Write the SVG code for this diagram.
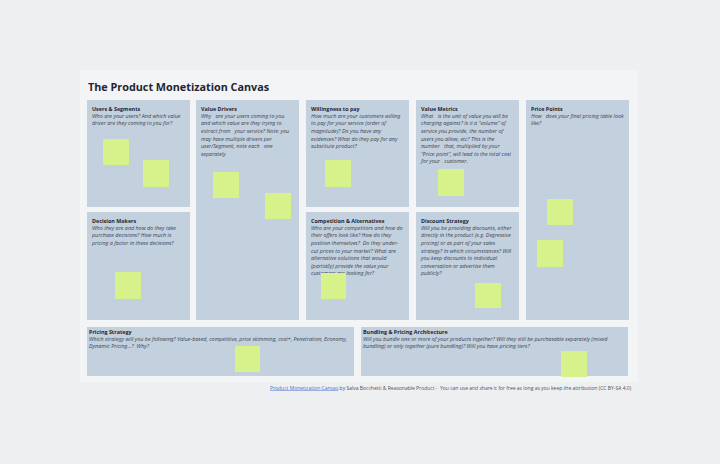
<svg xmlns="http://www.w3.org/2000/svg" width="720" height="464" viewBox="0 0 720 464" xml:space="preserve">
<style>
.panel{fill:#c3d1df}
.note{fill:#d8f28b}
.h{font-family:"Open Sans","Liberation Sans",sans-serif;font-weight:700;font-size:5.4px;fill:#1f2630}
.b{font-family:"Open Sans","Liberation Sans",sans-serif;font-style:italic;font-size:5.4px;fill:#3a4250;white-space:pre}
.t{font-family:"Open Sans","Liberation Sans",sans-serif;font-weight:700;font-size:10.8px;fill:#1f2630}
.f{font-family:"Open Sans","Liberation Sans",sans-serif;font-size:5px;fill:#4a5260;white-space:pre}
.lnk{fill:#4a6fd0;text-decoration:underline}
</style>
<rect x="0" y="0" width="720" height="464" fill="#eeeff1"/>
<rect x="80" y="70" width="558" height="312" fill="#f3f4f6"/>
<text class="t" x="88" y="91">The Product Monetization Canvas</text>

<g id="users-segments">
<rect class="panel" x="87" y="100" width="103" height="107"/>
<text class="h" x="92" y="110.5">Users &amp; Segments</text>
<text class="b" x="92" y="117.7">Who are your users? And which value</text>
<text class="b" x="92" y="125.3">driver are they coming to you for?</text>
<rect class="note" x="103" y="139" width="26" height="26"/>
<rect class="note" x="143" y="160" width="26" height="27"/>
</g>

<g id="value-drivers">
<rect class="panel" x="196" y="100" width="103" height="220"/>
<text class="h" x="201" y="110.5">Value Drivers</text>
<text class="b" x="201" y="117.7">Why   are your users coming to you</text>
<text class="b" x="201" y="125.3">and which value are they trying to</text>
<text class="b" x="201" y="132.9">extract from   your service? Note: you</text>
<text class="b" x="201" y="140.5">may have multiple drivers per</text>
<text class="b" x="201" y="148.1">user/Segment, note each   one</text>
<text class="b" x="201" y="155.7">separately</text>
<rect class="note" x="213" y="172" width="26" height="26"/>
<rect class="note" x="265" y="193" width="26" height="26"/>
</g>

<g id="willingness-to-pay">
<rect class="panel" x="306" y="100" width="103" height="107"/>
<text class="h" x="311" y="110.5">Willingness to pay</text>
<text class="b" x="311" y="117.7">How much are your customers willing</text>
<text class="b" x="311" y="125.3">to pay for your service (order of</text>
<text class="b" x="311" y="132.9">magnitude)? Do you have any</text>
<text class="b" x="311" y="140.5">evidences? What do they pay for any</text>
<text class="b" x="311" y="148.1">substitute product?</text>
<rect class="note" x="325" y="160" width="26" height="27"/>
</g>

<g id="value-metrics">
<rect class="panel" x="416" y="100" width="103" height="107"/>
<text class="h" x="421" y="110.5">Value Metrics</text>
<text class="b" x="421" y="117.7">What   is the unit of value you will be</text>
<text class="b" x="421" y="125.3">charging against? Is it a “volume” of</text>
<text class="b" x="421" y="132.9">service you provide, the number of</text>
<text class="b" x="421" y="140.5">users you allow, etc? This is the</text>
<text class="b" x="421" y="148.1">number   that, multiplied by your</text>
<text class="b" x="421" y="155.7">“Price point”, will lead to the total cost</text>
<text class="b" x="421" y="163.3">for your   customer.</text>
<rect class="note" x="438" y="169" width="26" height="27"/>
</g>

<g id="price-points">
<rect class="panel" x="526" y="100" width="103" height="220"/>
<text class="h" x="531" y="110.5">Price Points</text>
<text class="b" x="531" y="117.7">How   does your final pricing table look</text>
<text class="b" x="531" y="125.3">like?</text>
<rect class="note" x="547" y="199" width="26" height="26"/>
<rect class="note" x="537" y="240" width="26" height="27"/>
</g>

<g id="decision-makers">
<rect class="panel" x="87" y="212" width="103" height="108"/>
<text class="h" x="92" y="222.5">Decision Makers</text>
<text class="b" x="92" y="229.7">Who they are and how do they take</text>
<text class="b" x="92" y="237.3">purchase decisions? How much is</text>
<text class="b" x="92" y="244.9">pricing a factor in these decisions?</text>
<rect class="note" x="115" y="272" width="26" height="27"/>
</g>

<g id="competition-alternatives">
<rect class="panel" x="306" y="212" width="103" height="108"/>
<text class="h" x="311" y="222.5">Competition &amp; Alternatives</text>
<text class="b" x="311" y="229.7">Who are your competitors and how do</text>
<text class="b" x="311" y="237.3">their offers look like? How do they</text>
<text class="b" x="311" y="244.9">position themselves?  Do they under-</text>
<text class="b" x="311" y="252.5">cut prices to your market? What are</text>
<text class="b" x="311" y="260.1">alternative solutions that would</text>
<text class="b" x="311" y="267.7">(partially) provide the value your</text>
<text class="b" x="311" y="275.3">customers are looking for?</text>
<rect class="note" x="321" y="273" width="25" height="26"/>
</g>

<g id="discount-strategy">
<rect class="panel" x="416" y="212" width="103" height="108"/>
<text class="h" x="421" y="222.5">Discount Strategy</text>
<text class="b" x="421" y="229.7">Will you be providing discounts, either</text>
<text class="b" x="421" y="237.3">directly in the product (e.g. Degressive</text>
<text class="b" x="421" y="244.9">pricing) or as part of your sales</text>
<text class="b" x="421" y="252.5">strategy? In which circumstances? Will</text>
<text class="b" x="421" y="260.1">you keep discounts to individual</text>
<text class="b" x="421" y="267.7">conversation or advertise them</text>
<text class="b" x="421" y="275.3">publicly?</text>
<rect class="note" x="475" y="283" width="26" height="25"/>
</g>

<g id="pricing-strategy">
<rect class="panel" x="87" y="327" width="267" height="49"/>
<text class="h" x="89" y="334">Pricing Strategy</text>
<text class="b" x="89" y="340.8">Which strategy will you be following? Value-based, competitive, price skimming, cost+, Penetration, Economy,</text>
<text class="b" x="89" y="348.4">Dynamic Pricing...?  Why?</text>
<rect class="note" x="235" y="346" width="25" height="26"/>
</g>

<g id="bundling-pricing-architecture">
<rect class="panel" x="361" y="327" width="267" height="49"/>
<text class="h" x="363" y="334">Bundling &amp; Pricing Architecture</text>
<text class="b" x="363" y="340.8">Will you bundle one or more of your products together? Will they still be purchasable separately (mixed</text>
<text class="b" x="363" y="348.4">bundling) or only together (pure bundling)? Will you have pricing tiers?</text>
<rect class="note" x="561" y="351" width="26" height="26"/>
</g>

<g id="connectors"/>

<text class="f" x="270" y="389.5"><tspan class="lnk">Product Monetization Canvas</tspan> by Salva Bocchetti &amp; Reasonable Product -  You can use and share it for free as long as you keep the attribution (CC BY-SA 4.0)</text>
</svg>
